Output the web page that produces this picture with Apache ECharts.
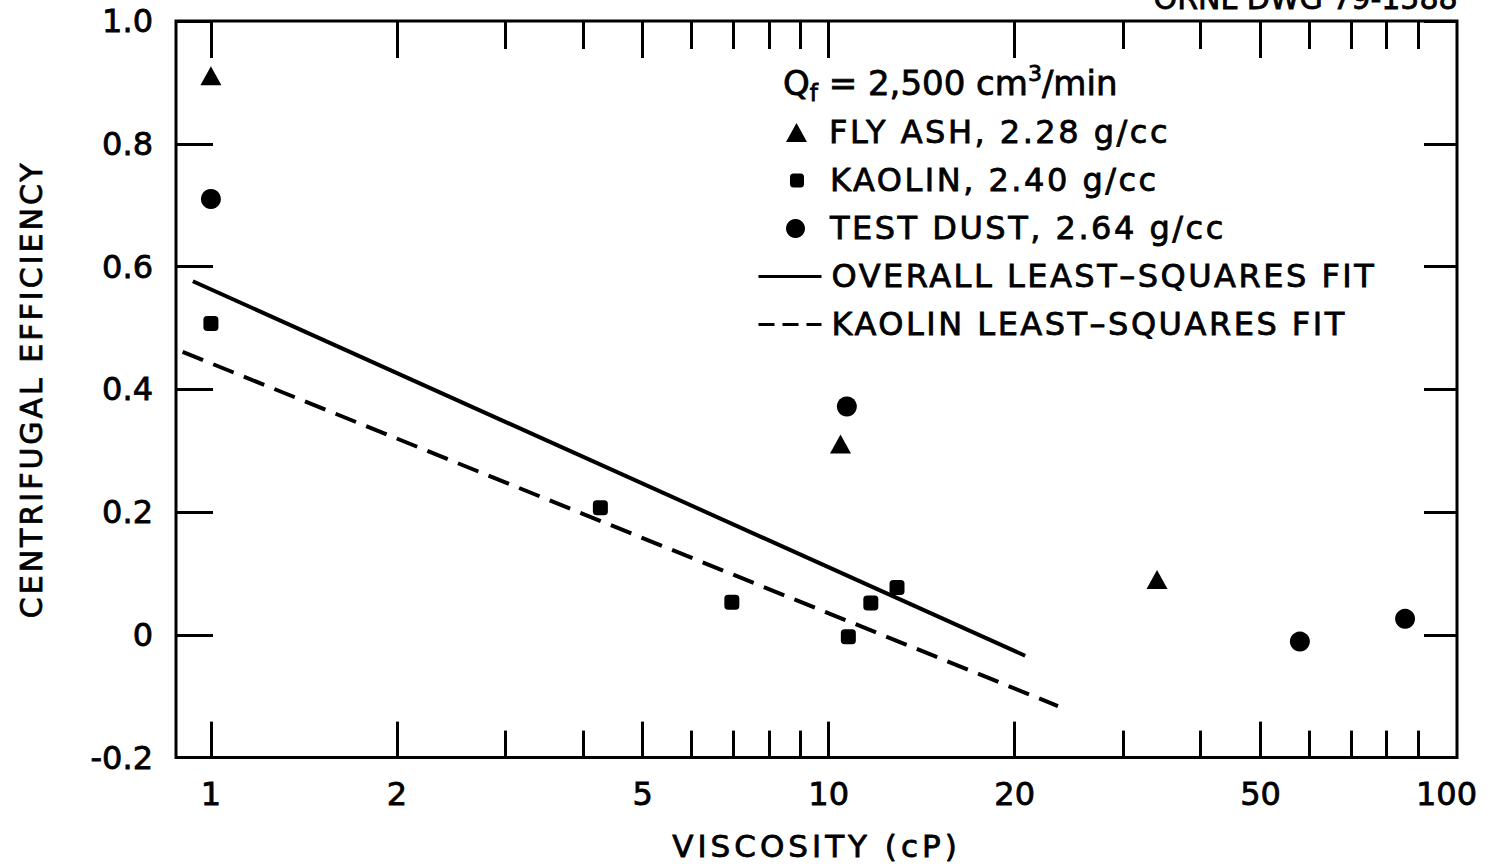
<!DOCTYPE html>
<html>
<head>
<meta charset="utf-8">
<script src="https://cdn.jsdelivr.net/npm/echarts@6/dist/echarts.min.js"></script>
<style>
html,body{margin:0;padding:0;background:#fff;}
#chart{width:1499px;height:867px;}
</style>
</head>
<body>
<div id="chart"></div>
<script>
// ---- data ----
const flyAshVisc = [1.0, 10.45, 34.0];
const flyAshEff  = [0.911, 0.311, 0.090];
const kaolinVisc = [1.0, 4.27, 6.97, 10.76, 11.7, 12.9];
const kaolinEff  = [0.507, 0.207, 0.053, -0.003, 0.052, 0.077];
const testDustVisc = [1.0, 10.7, 57.9, 85.7];
const testDustEff  = [0.71, 0.372, -0.011, 0.026];
const overallFitVisc = [0.935, 20.8];
const overallFitEff  = [0.576, -0.034];
const kaolinFitVisc = [0.90, 23.5];
const kaolinFitEff  = [0.461, -0.116];

const xMajorTicks = [1, 2, 5, 10, 20, 50];
const xMinorTicks = [3, 4, 6, 7, 8, 9, 30, 40, 60, 70, 80, 90];
const xTickLabels = [1, 2, 5, 10, 20, 50, 100];
const yTickLabels = ['-0.2', '0', '0.2', '0.4', '0.6', '0.8', '1.0'];

const seriesNames = ['FLY ASH, 2.28 g/cc', 'KAOLIN, 2.40 g/cc', 'TEST DUST, 2.64 g/cc',
                     'OVERALL LEAST\u2013SQUARES FIT', 'KAOLIN LEAST\u2013SQUARES FIT'];
const xName = 'VISCOSITY (cP)';
const yName = 'CENTRIFUGAL EFFICIENCY';
const drawingNo = 'ORNL DWG 79-1588';

// ---- chart ----
const pair = (xs, ys) => xs.map((x, i) => [x, ys[i]]);
const FONT = 'DejaVu Sans';
const BLACK = '#000';
const BOLDEN = {textBorderColor: BLACK, textBorderWidth: 0.8};
const xMin = 0.878, xMax = 104;

function xAxisDef(position, ticks, len, withLabels) {
  const ax = {
    type: 'log', position: position, min: xMin, max: xMax,
    axisLine: {show: false, onZero: false}, splitLine: {show: false}, minorTick: {show: false},
    axisTick: {show: true, inside: true, length: len, customValues: ticks,
               lineStyle: {color: BLACK, width: 3}},
    axisLabel: {show: false}
  };
  if (withLabels) {
    ax.axisLabel = Object.assign({show: true, customValues: xTickLabels, margin: 20,
      fontFamily: FONT, fontSize: 32, color: BLACK,
      formatter: v => String(+(+v).toPrecision(6))}, BOLDEN);
    ax.name = xName;
    ax.nameLocation = 'middle';
    ax.nameGap = 73;
    ax.nameTextStyle = Object.assign({fontFamily: FONT, fontSize: 31, color: BLACK}, BOLDEN);
  }
  return ax;
}

function yAxisDef(position, len, withLabels) {
  const ax = {
    type: 'value', position: position, min: -0.2, max: 1.0, interval: 0.2,
    axisLine: {show: false, onZero: false}, splitLine: {show: false},
    axisTick: {show: true, inside: true, length: len, lineStyle: {color: BLACK, width: 3}},
    axisLabel: {show: false}
  };
  if (withLabels) {
    ax.axisLabel = Object.assign({show: true, margin: 23, fontFamily: FONT, fontSize: 32, color: BLACK,
      formatter: v => yTickLabels[Math.round((v + 0.2) / 0.2)]}, BOLDEN);
    ax.name = yName;
    ax.nameLocation = 'middle';
    ax.nameGap = 130;
    ax.nameTextStyle = Object.assign({fontFamily: FONT, fontSize: 30, color: BLACK}, BOLDEN);
  }
  return ax;
}

const legendText = Object.assign({fontFamily: FONT, fontSize: 32, color: BLACK}, BOLDEN);
function legendDef(left, top, w, h, padLeft, dataItem) {
  return {
    show: true, orient: 'vertical', left: left, top: top, padding: 0,
    itemWidth: w, itemHeight: h, selectedMode: false, symbolKeepAspect: true,
    textStyle: Object.assign({padding: [0, 0, 0, padLeft]}, legendText),
    data: [dataItem]
  };
}
const hiddenDot = {opacity: 0, color: 'rgba(0,0,0,0)', borderWidth: 0};
const richBase = Object.assign({fontFamily: FONT, fontWeight: 'normal', color: BLACK}, BOLDEN);

const option = {
  animation: false,
  backgroundColor: '#fff',
  grid: {left: 176, right: 42, top: 21, bottom: 106, show: true,
         borderColor: BLACK, borderWidth: 3, backgroundColor: 'transparent'},
  title: {
    left: 783, top: 62, padding: 0,
    text: '{m|Q}{s|f}{m| = 2,500 cm}{p|3}{m|/min}',
    textStyle: {
      fontWeight: 'normal',
      rich: {
        m: Object.assign({fontSize: 34, lineHeight: 42, verticalAlign: 'middle'}, richBase),
        s: Object.assign({fontSize: 23, lineHeight: 22, verticalAlign: 'bottom'}, richBase),
        p: Object.assign({fontSize: 22, lineHeight: 22, verticalAlign: 'top'}, richBase)
      }
    }
  },
  graphic: [{
    type: 'text', right: 41, top: -17,
    style: {text: drawingNo, fontFamily: FONT, fontSize: 30, fill: BLACK,
            stroke: BLACK, lineWidth: 0.8}
  }],
  legend: [
    legendDef(786, 116, 21, 19, 17, {name: seriesNames[0], icon: 'triangle'}),
    legendDef(790, 164, 14, 14, 21, {name: seriesNames[1], icon: 'roundRect'}),
    legendDef(786, 212, 19, 19, 20, {name: seriesNames[2], icon: 'circle'}),
    legendDef(757, 260, 63, 20, 5, {name: seriesNames[3], itemStyle: hiddenDot,
      lineStyle: {width: 3, type: 'solid', color: BLACK}}),
    legendDef(757, 308, 63, 20, 5, {name: seriesNames[4], itemStyle: hiddenDot,
      lineStyle: {width: 3, type: [16, 8], color: BLACK}})
  ],
  xAxis: [
    xAxisDef('bottom', xMajorTicks, 36, true),
    xAxisDef('bottom', xMinorTicks, 27, false),
    xAxisDef('top', xMajorTicks, 37, false),
    xAxisDef('top', xMinorTicks, 28, false)
  ],
  yAxis: [
    yAxisDef('left', 37, true),
    yAxisDef('right', 33, false)
  ],
  series: [
    {name: seriesNames[0], type: 'scatter', xAxisIndex: 0, yAxisIndex: 0,
     symbol: 'triangle', symbolSize: [21, 19], itemStyle: {color: BLACK, opacity: 1},
     data: pair(flyAshVisc, flyAshEff)},
    {name: seriesNames[1], type: 'scatter', xAxisIndex: 0, yAxisIndex: 0,
     symbol: 'roundRect', symbolSize: 15, itemStyle: {color: BLACK, opacity: 1},
     data: pair(kaolinVisc, kaolinEff)},
    {name: seriesNames[2], type: 'scatter', xAxisIndex: 0, yAxisIndex: 0,
     symbol: 'circle', symbolSize: 20, itemStyle: {color: BLACK, opacity: 1},
     data: pair(testDustVisc, testDustEff)},
    {name: seriesNames[3], type: 'line', xAxisIndex: 0, yAxisIndex: 0,
     symbol: 'none', itemStyle: {color: BLACK},
     lineStyle: {color: BLACK, width: 4, type: 'solid'},
     data: pair(overallFitVisc, overallFitEff)},
    {name: seriesNames[4], type: 'line', xAxisIndex: 0, yAxisIndex: 0,
     symbol: 'none', itemStyle: {color: BLACK},
     lineStyle: {color: BLACK, width: 4, type: [22, 11]},
     data: pair(kaolinFitVisc, kaolinFitEff)}
  ]
};

const chart = echarts.init(document.getElementById('chart'), null, {renderer: 'svg'});
chart.setOption(option);

// letter spacing of the hand-lettered captions
const spacing = {};
seriesNames.forEach(n => { spacing[n] = 2.5; });
spacing[xName] = 4;
spacing[yName] = 3;
function applySpacing() {
  document.querySelectorAll('#chart text').forEach(t => {
    const s = spacing[t.textContent.trim()];
    if (s != null) t.setAttribute('letter-spacing', s);
  });
}
applySpacing();
chart.on('finished', applySpacing);
setTimeout(applySpacing, 30);
</script>
</body>
</html>
